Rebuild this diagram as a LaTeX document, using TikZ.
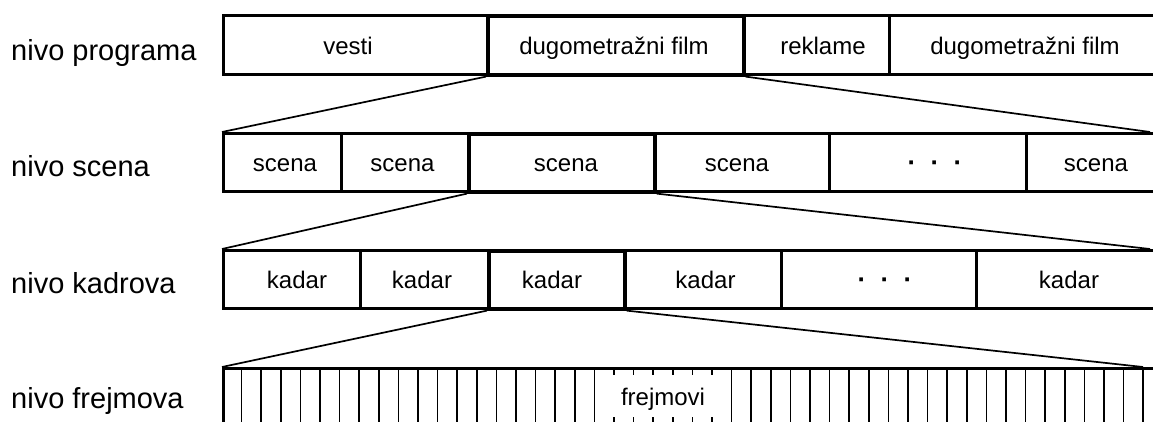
\documentclass[tikz,border=0pt]{standalone}
\usepackage{fontspec}
\setmainfont{Liberation Sans}
\begin{document}
\begin{tikzpicture}[x=1pt,y=-1pt,
 cell/.style={draw, line width=2.6pt, inner sep=0pt, anchor=north west},
 hl/.style={cell, line width=3.6pt},
 lbl/.style={anchor=base west, font=\fontsize{29}{34}\selectfont, inner sep=0pt},
 txt/.style={anchor=base, font=\fontsize{24}{28}\selectfont, inner sep=0pt},
 dots/.style={anchor=base, font=\fontsize{26}{28}\selectfont\bfseries, inner sep=0pt},
 conn/.style={line width=1.7pt},
 frm/.style={line width=1.6pt}]
\useasboundingbox (0,0) rectangle (1153,421);
\clip (0,0) rectangle (1153,421);

% labels
\node[lbl] (l1) at (11,60) {nivo programa};
\node[lbl] (l2) at (11,176) {nivo scena};
\node[lbl] (l3) at (11,293) {nivo kadrova};
\node[lbl] (l4) at (11,408) {nivo frejmova};

% program level
\node[cell, minimum width=264pt, minimum height=59pt] (p1) at (222,14) {};
\node[cell, minimum width=146pt, minimum height=59pt] (p3) at (742,14) {};
\node[cell, minimum width=274pt, minimum height=59pt] (p4) at (888,14) {};
\node[hl, minimum width=256pt, minimum height=59pt] (p2) at (486,14) {};
\node[txt] (tp1) at (348,54) {vesti};
\node[txt] (tp2) at (614,54) {dugometražni film};
\node[txt] (tp3) at (823,54) {reklame};
\node[txt] (tp4) at (1025,54) {dugometražni film};

% scene level
\node[cell, minimum width=118pt, minimum height=58pt] (s1) at (222,132) {};
\node[cell, minimum width=127pt, minimum height=58pt] (s2) at (340,132) {};
\node[cell, minimum width=175pt, minimum height=58pt] (s4) at (653,132) {};
\node[cell, minimum width=197pt, minimum height=58pt] (s5) at (828,132) {};
\node[cell, minimum width=140pt, minimum height=58pt] (s6) at (1025,132) {};
\node[hl, minimum width=186pt, minimum height=58pt] (s3) at (467,132) {};
\node[txt] (ts1) at (285,171) {scena};
\node[txt] (ts2) at (402.5,171) {scena};
\node[txt] (ts3) at (566,171) {scena};
\node[txt] (ts4) at (737,171) {scena};
\node[dots] (ts5) at (935,171) {·\hspace{0.55em}·\hspace{0.55em}·};
\node[txt] (ts6) at (1096,171) {scena};

% shot level
\node[cell, minimum width=137pt, minimum height=58pt] (k1) at (222,249) {};
\node[cell, minimum width=128pt, minimum height=58pt] (k2) at (359,249) {};
\node[cell, minimum width=157pt, minimum height=58pt] (k4) at (623,249) {};
\node[cell, minimum width=195pt, minimum height=58pt] (k5) at (780,249) {};
\node[cell, minimum width=190pt, minimum height=58pt] (k6) at (975,249) {};
\node[hl, minimum width=136pt, minimum height=58pt] (k3) at (487,249) {};
\node[txt] (tk1) at (297,288) {kadar};
\node[txt] (tk2) at (422,288) {kadar};
\node[txt] (tk3) at (552,288) {kadar};
\node[txt] (tk4) at (705.5,288) {kadar};
\node[dots] (tk5) at (885,288) {·\hspace{0.55em}·\hspace{0.55em}·};
\node[txt] (tk6) at (1069,288) {kadar};

% frame level
\node[cell, minimum width=950pt, minimum height=80pt] (fr) at (222,367) {};
\foreach \k in {1,...,19,26,27,...,47}
  \draw[frm] (222+19.6*\k,367) -- ++(0,60);
\foreach \k in {20,...,25}{
  \draw[frm] (222+19.6*\k,367) -- ++(0,8);
  \draw[frm] (222+19.6*\k,417) -- ++(0,8);
}
\node[txt] (tf) at (663,405) {frejmovi};

% connectors
\coordinate (r1) at (1150,132);
\coordinate (r2) at (1150,249);
\coordinate (r3) at (1143,367);
\draw[conn] (p2.south west) -- (s1.north west);
\draw[conn] (p2.south east) -- (r1);
\draw[conn] (s3.south west) -- (k1.north west);
\draw[conn] (s3.south east) -- (r2);
\draw[conn] (k3.south west) -- (fr.north west);
\draw[conn] (k3.south east) -- (r3);
\end{tikzpicture}
\end{document}
